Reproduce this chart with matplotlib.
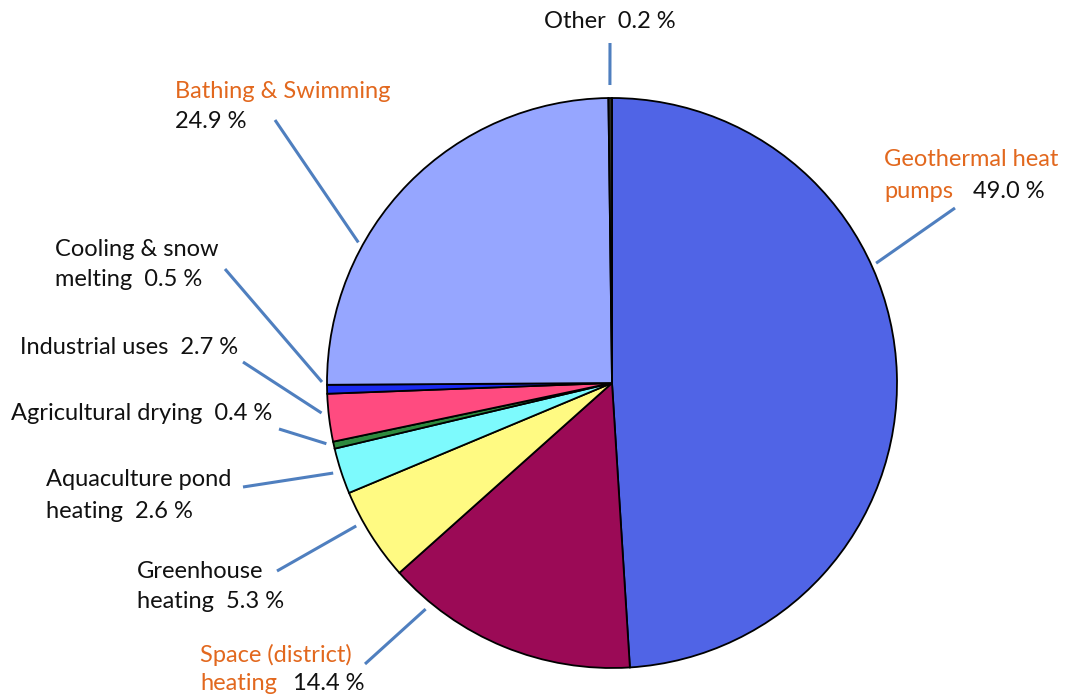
import numpy as np
import matplotlib.pyplot as plt

plt.rcParams['font.family'] = ['Lato', 'DejaVu Sans']

# data: share of direct geothermal use (clockwise from 12 o'clock)
uses = ['Geothermal heat pumps', 'Space (district) heating', 'Greenhouse heating',
        'Aquaculture pond heating', 'Agricultural drying', 'Industrial uses',
        'Cooling & snow melting', 'Bathing & Swimming', 'Other']
shares = [49.0, 14.4, 5.3, 2.6, 0.4, 2.7, 0.5, 24.9, 0.2]
colors = ['#5064E6', '#9B0A56', '#FFFA82', '#7DFAFD', '#2E8A3E',
          '#FF4B80', '#1A2AF0', '#96A6FF', '#2A2A2A']

W, H = 1072, 696
ORANGE = '#E2681E'
LINE = '#4F7FBF'
cx, cy, R = 612, H - 383, 285


def py(y):
    # image pixel row -> data y
    return H - y


fig = plt.figure(figsize=(W / 100, H / 100), dpi=100)
ax = fig.add_axes([0, 0, 1, 1])
ax.pie(shares, colors=colors, startangle=90, counterclock=False,
       center=(cx, cy), radius=R,
       wedgeprops=dict(edgecolor='black', linewidth=1.3))
ax.set_xlim(0, W)
ax.set_ylim(0, H)
ax.set_aspect('equal')
ax.axis('off')

# leader lines: text-side start (pixel), pie-side end (angle deg, radius)
leaders = [
    ((610, 43), 90.4, 298),
    ((275, 120), 151.0, 290),
    ((955, 208), 24.4, 290),
    ((225, 269), 179.8, 290),
    ((243, 362), 185.9, 292),
    ((279, 429), 192.0, 292),
    ((243, 487), 197.9, 293),
    ((277, 571), 209.2, 293),
    ((365, 664), 230.5, 293),
]
for (x0, y0), ang, r in leaders:
    a = np.deg2rad(ang)
    ax.plot([x0, cx + r * np.cos(a)], [py(y0), cy + r * np.sin(a)],
            color=LINE, lw=2.2, solid_capstyle='butt')

fs = 17
kw = dict(fontsize=fs, va='center', ha='left', color='#111111')
okw = dict(kw, color=ORANGE)
ax.text(610, py(21), 'Other  0.2 %', ha='center', va='center', fontsize=fs,
        color='#111111')
ax.text(175, py(91), 'Bathing & Swimming', **okw)
ax.text(175, py(121), '24.9 %', **kw)
ax.text(884, py(160), 'Geothermal heat', **okw)
ax.text(884, py(191), 'pumps', **okw)
ax.text(973, py(191), '49.0 %', **kw)
ax.text(55, py(249), 'Cooling & snow', **kw)
ax.text(55, py(280), 'melting  0.5 %', **kw)
ax.text(20, py(348), 'Industrial uses  2.7 %', **kw)
ax.text(11, py(414), 'Agricultural drying  0.4 %', **kw)
ax.text(46, py(480), 'Aquaculture pond', **kw)
ax.text(46, py(511), 'heating  2.6 %', **kw)
ax.text(137, py(571), 'Greenhouse', **kw)
ax.text(137, py(602), 'heating  5.3 %', **kw)
ax.text(200, py(655), 'Space (district)', **okw)
ax.text(200, py(684), 'heating', **okw)
ax.text(293, py(684), '14.4 %', **kw)

fig.savefig('out.png', dpi=100)
